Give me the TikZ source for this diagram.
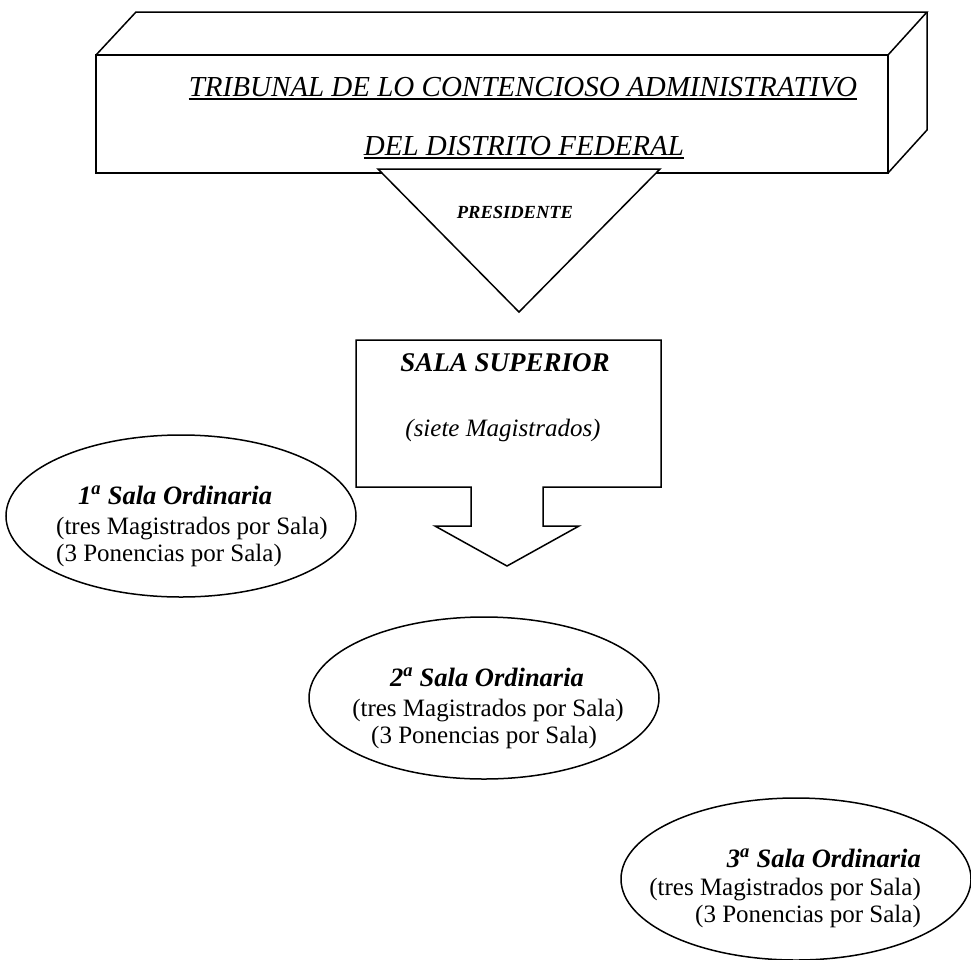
\documentclass[tikz,border=0pt]{standalone}
\usepackage{fontspec}
\setmainfont{Liberation Serif}
\usetikzlibrary{shapes.geometric}
\tikzset{
  shp/.style={draw=black, line width=1.5pt, line join=miter},
  ell/.style={draw=black, line width=1.5pt, ellipse, minimum width=350pt, minimum height=162pt, inner sep=0pt},
  ttl/.style={inner sep=0pt, font=\fontsize{29}{34}\selectfont\itshape},
  uline/.style={line width=1.6pt},
  pres/.style={inner sep=0pt, font=\fontsize{18.5}{22}\selectfont\bfseries\itshape},
  supt/.style={inner sep=0pt, font=\fontsize{27}{32}\selectfont\bfseries\itshape},
  supn/.style={inner sep=0pt, font=\fontsize{25}{30}\selectfont\itshape},
  salb/.style={inner sep=0pt, font=\fontsize{26.5}{30}\selectfont\bfseries\itshape},
  salr/.style={inner sep=0pt, font=\fontsize{25}{28}\selectfont},
}
\begin{document}
\begin{tikzpicture}[x=1pt,y=-1pt]
\useasboundingbox (0,0) rectangle (971,959);
% 3D box
\coordinate (f1) at (96,55);
\coordinate (f2) at (888,55);
\coordinate (f3) at (888,173);
\coordinate (f4) at (96,173);
\coordinate (b1) at (136,12);
\coordinate (b2) at (927,12);
\coordinate (b3) at (927,130);
\draw[shp] (f1) -- (f2) -- (f3) -- (f4) -- cycle;
\draw[shp] (f1) -- (b1) -- (b2) -- (f2);
\draw[shp] (b2) -- (b3) -- (f3);
\node[ttl, anchor=base] (t1) at (523,96) {TRIBUNAL DE LO CONTENCIOSO ADMINISTRATIVO};
\node[ttl, anchor=base] (t2) at (524,155) {DEL DISTRITO FEDERAL};
\draw[uline] ([yshift=-3pt]t1.base west) -- ([yshift=-3pt]t1.base east);
\draw[uline] ([yshift=-3pt]t2.base west) -- ([yshift=-3pt]t2.base east);
% triangle
\coordinate (p1) at (378,169);
\coordinate (p2) at (660,169);
\coordinate (p3) at (519,312);
\draw[shp, fill=white] (p1) -- (p2) -- (p3) -- cycle;
\node[pres] (pr) at (515,212) {PRESIDENTE};
% callout
\coordinate (c1) at (356,340);
\coordinate (c2) at (661,340);
\coordinate (c3) at (661,487);
\coordinate (tip) at (507,566);
\draw[shp] (c1) -- (c2) -- (c3) -- (543,487) -- (543,526) -- (579,526) -- (tip)
  -- (435,526) -- (471,526) -- (471,487) -- (356,487) -- cycle;
\node[supt] (ss) at (505,363) {SALA SUPERIOR};
\node[supn] (sm) at (503,430) {(siete Magistrados)};
% ellipses
\node[ell] (e1) at (181,516) {};
\node[salb, anchor=base west] (e1a) at (78,504) {1\textsuperscript{a} Sala Ordinaria};
\node[salr, anchor=base west] (e1b) at (56,534) {(tres Magistrados por Sala)};
\node[salr, anchor=base west] (e1c) at (56,561) {(3 Ponencias por Sala)};
\node[ell] (e2) at (484,698) {};
\node[salb, anchor=base] (e2a) at (487,686) {2\textsuperscript{a} Sala Ordinaria};
\node[salr, anchor=base] (e2b) at (488,716) {(tres Magistrados por Sala)};
\node[salr, anchor=base] (e2c) at (484,743) {(3 Ponencias por Sala)};
\node[ell] (e3) at (796,879) {};
\node[salb, anchor=base east] (e3a) at (921,867) {3\textsuperscript{a} Sala Ordinaria};
\node[salr, anchor=base east] (e3b) at (921,895) {(tres Magistrados por Sala)};
\node[salr, anchor=base east] (e3c) at (921,922) {(3 Ponencias por Sala)};
\end{tikzpicture}
\end{document}
